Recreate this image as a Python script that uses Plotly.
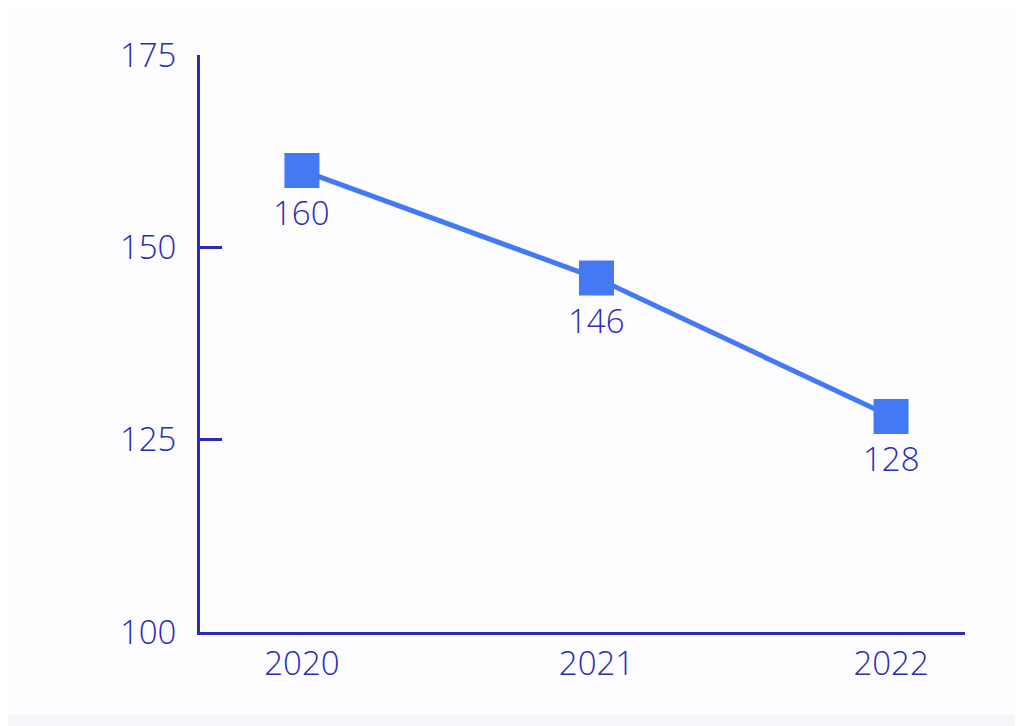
import plotly.graph_objects as go

years = ["2020", "2021", "2022"]
values = [160, 146, 128]
y_ticks = [100, 125, 150, 175]

axis_color = "#2b2bb8"
line_color = "#4479f4"
bg_color = "#fdfdff"
font_family = "Open Sans, Noto Sans, sans-serif"
font_size = 33
label_font = dict(family=font_family, size=font_size, color=axis_color, weight=300)

fig = go.Figure()
fig.add_trace(go.Scatter(
    x=years, y=values,
    mode="lines+markers",
    line=dict(color=line_color, width=5),
    marker=dict(symbol="square", size=35, color=line_color),
    cliponaxis=False,
    hoverinfo="skip",
))

# category axis: annotations are positioned by category index
for i, v in enumerate(values):
    fig.add_annotation(
        x=i, y=v, xref="x", yref="y", text=str(v), showarrow=False,
        yshift=-42, font=label_font,
    )

fig.update_layout(
    width=1015, height=718,
    margin=dict(l=192, r=58, t=47, b=94),
    paper_bgcolor=bg_color,
    plot_bgcolor=bg_color,
    showlegend=False,
    font=label_font,
    xaxis=dict(
        type="category",
        range=[-0.346, 2.251],
        showgrid=False, zeroline=False,
        showline=True, linecolor=axis_color, linewidth=3,
        ticks="", ticklabelstandoff=0,
        tickfont=label_font,
    ),
    yaxis=dict(
        range=[100, 175],
        tickvals=y_ticks,
        showgrid=False, zeroline=False,
        showline=True, linecolor=axis_color, linewidth=3,
        ticks="inside", ticklen=22, tickwidth=3, tickcolor=axis_color,
        ticklabelstandoff=14,
        tickfont=label_font,
    ),
    shapes=[dict(
        type="rect", xref="paper", yref="paper",
        x0=-0.4, x1=1.2, y0=-0.2, y1=-0.1438,
        fillcolor="#f5f5fa", line=dict(width=0), layer="below",
    )],
)

fig.write_html("out.html")
